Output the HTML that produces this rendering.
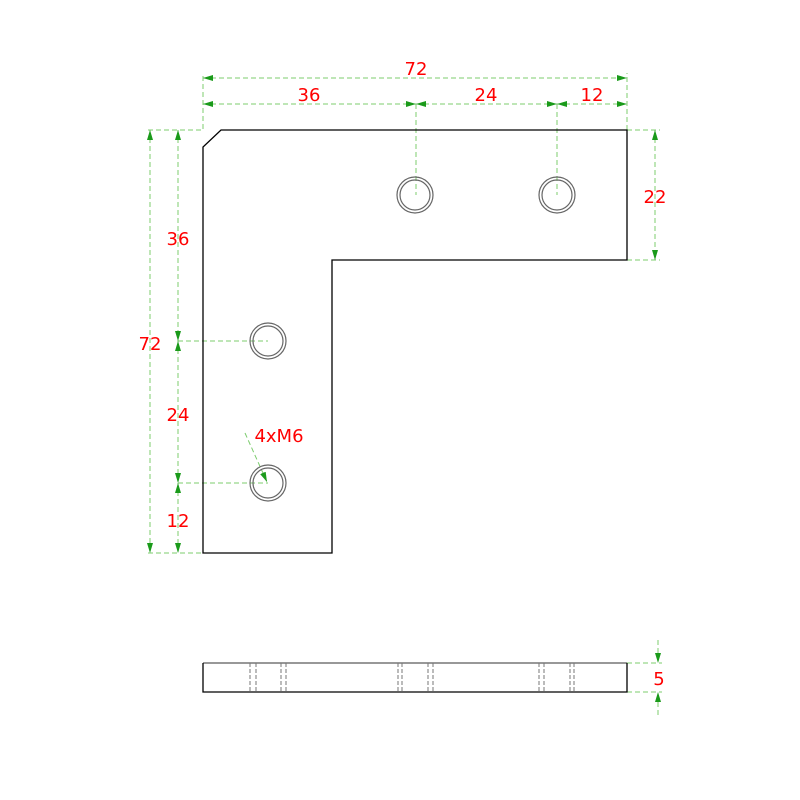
<!DOCTYPE html>
<html><head><style>body{margin:0;background:#fff}svg{display:block}</style></head><body>
<svg width="800" height="800" xmlns="http://www.w3.org/2000/svg">
<defs>
<marker id="a" viewBox="0 0 10 6" refX="10" refY="3" markerWidth="10" markerHeight="6" orient="auto-start-reverse" markerUnits="userSpaceOnUse"><path d="M0,0L10,3L0,6z" fill="#1a9a1a"/></marker>
</defs>
<g fill="none" stroke="#7ccc6e" stroke-width="1" stroke-dasharray="5,3">
<path d="M148,130H203V73M627,130V73M416,104V195M557,104V195M148,553H203M178,341H268M178,483H268M627,130H660M627,260H660M627,663H662M627,692H662"/>
</g>
<g stroke="#7ccc6e" stroke-width="1" stroke-dasharray="5,3" marker-start="url(#a)" marker-end="url(#a)">
<line x1="203" y1="78" x2="627" y2="78"/>
<line x1="203" y1="104" x2="416" y2="104"/>
<line x1="416" y1="104" x2="557" y2="104"/>
<line x1="557" y1="104" x2="627" y2="104"/>
<line x1="150" y1="130" x2="150" y2="553"/>
<line x1="178" y1="130" x2="178" y2="341"/>
<line x1="178" y1="341" x2="178" y2="483"/>
<line x1="178" y1="483" x2="178" y2="553"/>
<line x1="655" y1="130" x2="655" y2="260"/>
</g>
<g stroke="#7ccc6e" stroke-width="1" stroke-dasharray="5,3">
<line x1="658" y1="640" x2="658" y2="663" marker-end="url(#a)"/>
<line x1="658" y1="715" x2="658" y2="692" marker-end="url(#a)"/>
<line x1="245" y1="433" x2="267" y2="482" marker-end="url(#a)"/>
</g>
<path d="M221,130H627V260H332V553H203V147Z" fill="none" stroke="#000" stroke-width="1.3"/>
<g fill="none" stroke="#666" stroke-width="1.2">
<circle cx="415" cy="195" r="18"/><circle cx="415" cy="195" r="15"/>
<circle cx="557" cy="195" r="18"/><circle cx="557" cy="195" r="15"/>
<circle cx="268" cy="341" r="18"/><circle cx="268" cy="341" r="15"/>
<circle cx="268" cy="483" r="18"/><circle cx="268" cy="483" r="15"/>
</g>
<line x1="203" y1="663" x2="627" y2="663" stroke="#777" stroke-width="1.5"/>
<path d="M203,663V692H627V663" fill="none" stroke="#000" stroke-width="1.3"/>
<g stroke="#777" stroke-width="1" stroke-dasharray="4,2">
<path d="M250,663V692M256,663V692M281,663V692M286,663V692M398,663V692M402,663V692M428,663V692M433,663V692M539,663V692M544,663V692M570,663V692M574,663V692"/>
</g>
<g fill="#f00" font-family="DejaVu Sans, sans-serif" font-size="18" text-anchor="middle">
<text x="416" y="75">72</text>
<text x="309" y="101">36</text>
<text x="486" y="101">24</text>
<text x="592" y="101">12</text>
<text x="655" y="203">22</text>
<text x="178" y="245">36</text>
<text x="150" y="350">72</text>
<text x="178" y="421">24</text>
<text x="178" y="527">12</text>
<text x="279" y="442">4xM6</text>
<text x="659" y="685">5</text>
</g>
</svg>
</body></html>
